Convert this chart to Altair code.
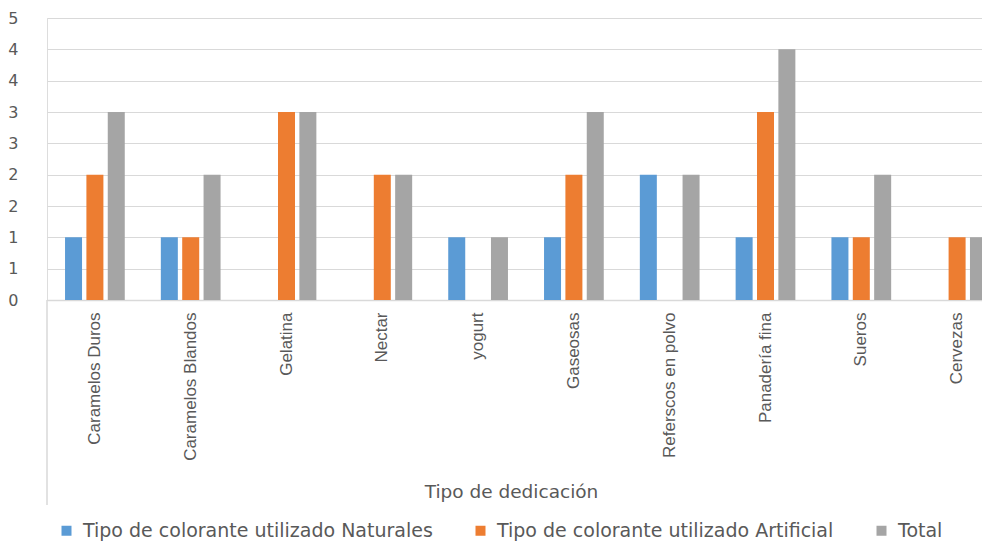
import altair as alt
import pandas as pd

categories = ["Caramelos Duros", "Caramelos Blandos", "Gelatina", "Nectar", "yogurt",
              "Gaseosas", "Referscos en polvo", "Panadería fina", "Sueros", "Cervezas"]
naturales = [1, 1, 0, 0, 1, 1, 2, 1, 1, 0]
artificial = [2, 1, 3, 2, 0, 2, 0, 3, 1, 1]
total = [3, 2, 3, 2, 1, 3, 2, 4, 2, 1]

series = ["Tipo de colorante utilizado Naturales",
          "Tipo de colorante utilizado Artificial",
          "Total"]
colors = ["#5B9BD5", "#ED7D31", "#A5A5A5"]
y_ticks = [0, 0.5, 1, 1.5, 2, 2.5, 3, 3.5, 4, 4.5]

rows = []
for i, cat in enumerate(categories):
    for s, vals in zip(series, [naturales, artificial, total]):
        rows.append({"Categoria": cat, "Serie": s, "Valor": vals[i]})
df = pd.DataFrame(rows)

W, H = 935, 282
FONT = "Liberation Sans Narrow, Liberation Sans, sans-serif"
WIDE = "DejaVu Sans, sans-serif"
GRAY_TXT = "#595959"

bars = alt.Chart(df).mark_bar(size=17).encode(
    x=alt.X("Categoria:N", sort=categories,
            scale=alt.Scale(range=[0, 958], paddingInner=0.38, paddingOuter=0.19),
            axis=alt.Axis(title="Tipo de dedicación", labelAngle=-90, labelAlign="right",
                          labelBaseline="middle", labelPadding=12, ticks=False,
                          domainColor="#D9D9D9", domainWidth=1.5,
                          labelFont=FONT, labelFontSize=17, labelColor=GRAY_TXT,
                          titleFont=WIDE, titleFontSize=18.5,
                          titleFontWeight="normal", titleColor=GRAY_TXT,
                          titleY=191, titleBaseline="middle", titleX=464)),
    xOffset=alt.XOffset("Serie:N", sort=series,
                        scale=alt.Scale(paddingInner=0.22, paddingOuter=0)),
    y=alt.Y("Valor:Q",
            scale=alt.Scale(domain=[0, 4.5], nice=False),
            axis=alt.Axis(title=None, values=y_ticks, labelExpr="'' + round(datum.value)",
                          ticks=False, domain=False, grid=True, gridColor="#D9D9D9",
                          gridWidth=1.2, labelPadding=29,
                          labelFont=WIDE, labelFontSize=16,
                          labelColor=GRAY_TXT)),
    color=alt.Color("Serie:N", sort=series,
                    scale=alt.Scale(domain=series, range=colors),
                    legend=alt.Legend(title=None, orient="none", direction="horizontal",
                                      legendX=10, legendY=503, symbolType="square",
                                      symbolSize=100, symbolStrokeWidth=0,
                                      labelFont=WIDE, labelFontSize=19,
                                      labelColor=GRAY_TXT, columnPadding=38,
                                      labelOffset=7, labelLimit=700)),
)

left_line = alt.Chart(pd.DataFrame({"v": [0]})).mark_rule(color="#D9D9D9", strokeWidth=1.5).encode(
    x=alt.value(0), y=alt.value(H), y2=alt.value(H + 205)
)

chart = alt.layer(bars, left_line).properties(
    width=W, height=H,
    autosize=alt.AutoSizeParams(type="none"),
    padding={"left": 47, "top": 18, "right": 0, "bottom": 242},
).configure_view(stroke=None).configure(background="white")

chart.save("out.html", embed_options={"renderer": "svg", "actions": False})
